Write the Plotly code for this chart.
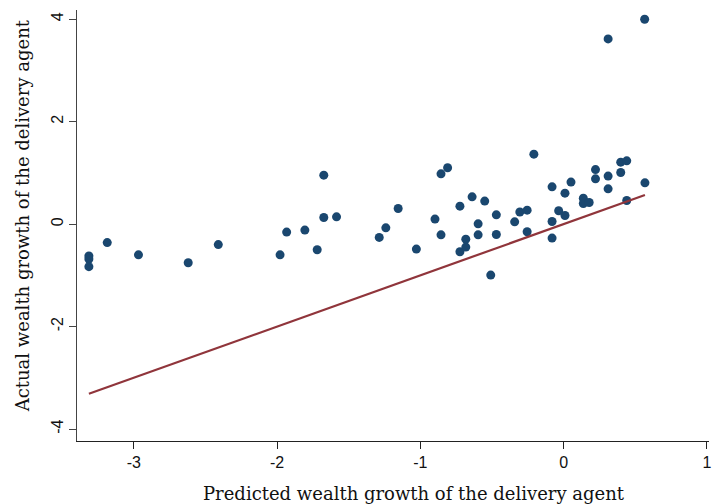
import plotly.graph_objects as go

# Predicted vs. actual wealth growth of delivery agents
predicted = [
    -3.313, -3.313, -3.313, -3.185, -2.967, -2.620, -2.410, -1.979, -1.933, -1.806,
    -1.720, -1.674, -1.674, -1.585, -1.287, -1.241, -1.155, -1.028, -0.898, -0.856,
    -0.856, -0.810, -0.724, -0.724, -0.683, -0.683, -0.639, -0.597, -0.597, -0.551,
    -0.509, -0.470, -0.470, -0.342, -0.306, -0.255, -0.255, -0.208, -0.081, -0.081,
    -0.081, -0.035, 0.009, 0.009, 0.051, 0.137, 0.137, 0.178, 0.222, 0.222,
    0.310, 0.310, 0.398, 0.440, 0.398, 0.440, 0.567, 0.310, 0.565,
]
actual = [
    -0.62, -0.68, -0.83, -0.36, -0.60, -0.755, -0.40, -0.60, -0.156, -0.117,
    -0.50, 0.956, 0.129, 0.142, -0.26, -0.072, 0.304, -0.488, 0.098, -0.209,
    0.981, 1.10, 0.351, -0.54, -0.449, -0.293, 0.533, 0.006, -0.209, 0.449,
    -0.995, 0.181, -0.203, 0.045, 0.236, 0.273, -0.15, 1.366, 0.728, 0.051,
    -0.273, 0.26, 0.168, 0.605, 0.82, 0.507, 0.402, 0.421, 1.065, 0.884,
    0.937, 0.689, 1.21, 1.235, 1.007, 0.46, 0.806, 3.616, 4.0,
]

x_ticks = [-3, -2, -1, 0, 1]
y_ticks = [-4, -2, 0, 2, 4]

x_title = "Predicted wealth growth of the delivery agent"
y_title = "Actual wealth growth of the delivery agent"

# 45-degree reference line spanning the predicted range
line_x = [min(predicted), max(predicted)]
line_y = line_x

serif = "DejaVu Serif, Palatino Linotype, Book Antiqua, serif"
sans = "Liberation Sans, Arial, sans-serif"

fig = go.Figure()
fig.add_trace(go.Scatter(
    x=predicted, y=actual, mode="markers",
    marker=dict(size=9, color="#1a476f", line=dict(width=0)),
    showlegend=False,
))
fig.add_trace(go.Scatter(
    x=line_x, y=line_y, mode="lines",
    line=dict(color="#90353b", width=2.2),
    showlegend=False,
))

fig.update_layout(
    width=712, height=504,
    margin=dict(l=77, r=0, t=10, b=63),
    paper_bgcolor="white", plot_bgcolor="white",
    xaxis=dict(
        range=[-3.396, 1.014], tickvals=x_ticks, ticktext=[str(v) for v in x_ticks],
        showgrid=False, zeroline=False, showline=True, linecolor="#222", linewidth=1.2,
        ticks="outside", ticklen=7, tickcolor="#222", tickwidth=1.2,
        ticklabeloverflow="allow",
        tickfont=dict(family=sans, size=16, color="#111"),
    ),
    yaxis=dict(
        range=[-4.234, 4.18], tickvals=y_ticks, ticktext=[str(v) for v in y_ticks],
        showgrid=False, zeroline=False, showline=True, linecolor="#444", linewidth=1.2,
        ticks="outside", ticklen=7, tickcolor="#444", tickwidth=1.2, tickangle=-90,
        ticklabeloverflow="allow",
        tickfont=dict(family=sans, size=16, color="#111"),
    ),
    annotations=[
        dict(text=x_title, xref="paper", yref="paper", x=0.534, y=-0.122,
             xanchor="center", yanchor="middle", showarrow=False,
             font=dict(family=serif, size=18, color="#111")),
        dict(text=y_title, xref="paper", yref="paper", x=-0.0866, y=0.522,
             xanchor="center", yanchor="middle", showarrow=False, textangle=-90,
             font=dict(family=serif, size=18, color="#111")),
    ],
)

fig.write_html("out.html")
